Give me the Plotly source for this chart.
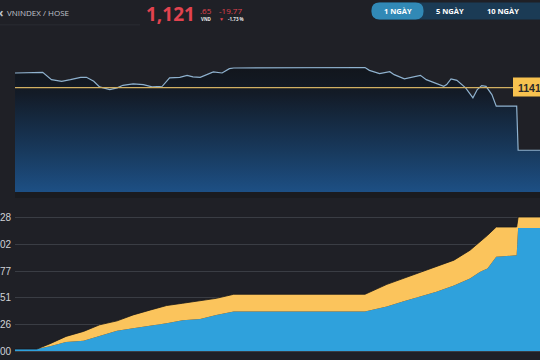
import plotly.graph_objects as go

DAY = "2024-01-02 "

# ---- intraday index line (top panel) ----
line_times = ["09:00", "09:17", "09:19", "09:25", "09:32", "09:38", "09:45", "09:49",
              "09:54", "09:58", "10:05", "10:10", "10:14", "10:21", "10:28", "10:34",
              "10:41", "10:46", "10:53", "10:58", "11:02", "11:07", "11:16", "11:22",
              "11:27", "11:30", "13:00", "13:03", "13:10", "13:17", "13:20", "13:27",
              "13:33", "13:38", "13:42", "13:48", "13:54", "13:56", "13:59", "14:03",
              "14:09", "14:14", "14:17", "14:20", "14:23", "14:27", "14:30", "14:44",
              "14:45", "15:00"]
line_values = [1146.03, 1146.03, 1146.22, 1143.93, 1143.40, 1143.93, 1144.65, 1144.65,
               1143.40, 1141.64, 1140.79, 1141.33, 1142.14, 1142.58, 1142.36, 1141.64,
               1141.83, 1144.46, 1144.65, 1145.28, 1144.78, 1144.65, 1146.35, 1146.03,
               1147.38, 1147.60, 1147.75, 1146.85, 1145.81, 1146.44, 1145.50, 1144.15,
               1144.78, 1145.28, 1143.93, 1142.89, 1141.83, 1142.36, 1144.15, 1143.71,
               1141.33, 1138.19, 1140.79, 1142.05, 1141.83, 1139.22, 1135.55, 1135.55,
               1121.65, 1121.65]
ref_value = 1141.42
ref_label = "1141.42"

# ---- cumulative volume (bottom panel) ----
vol_times = ["09:00", "09:15", "09:24", "09:35", "09:47", "09:58", "10:10", "10:21",
             "10:33", "10:44", "10:55", "11:07", "11:18", "11:30", "13:00", "13:15",
             "13:26", "13:38", "13:49", "14:01", "14:12", "14:19", "14:24", "14:30",
             "14:44", "14:45", "15:00"]
vol_blue = [1.9, 1.9, 4.5, 8.6, 9.8, 14.3, 19.4, 21.9, 24.1, 26.7, 29.6, 30.8, 34.6,
            37.9, 37.9, 42.6, 47.4, 52.2, 56.9, 62.7, 69.6, 76.0, 79.2, 90.3, 91.8,
            118.0, 118.0]
vol_yellow = [0.0, 0.0, 2.5, 5.4, 9.0, 10.8, 9.5, 12.7, 15.3, 16.9, 16.2, 17.2, 15.9,
              16.5, 16.5, 21.3, 22.2, 23.1, 23.9, 24.4, 27.0, 28.6, 31.7, 28.6, 27.1,
              10.5, 10.5]
vol_tickvals = [0, 25.6, 51.1, 76.7, 102.2, 127.8]
vol_ticktext = ["00", "26", "51", "77", "02", "28"]

# ---- header texts ----
title_text = "VNINDEX / HOSE"
price_main = "1,121"
price_dec = ".65"
price_unit = "VND"
change_abs = "-19.77"
change_pct = "-1.73 %"
buttons = ["1 NGÀY", "5 NGÀY", "10 NGÀY"]

W, H = 540, 360
BG = "#1f2026"


def px(x):
    return x / W


def py(y):
    return 1 - y / H


lx = [DAY + t for t in line_times]
vx = [DAY + t for t in vol_times]
vol_total = [b + y for b, y in zip(vol_blue, vol_yellow)]

fig = go.Figure()

fig.add_trace(go.Scatter(
    x=lx, y=line_values, mode="lines",
    line=dict(color="#8fb2cf", width=1.2),
    fill="tozeroy",
    fillgradient=dict(type="vertical", start=1108.5, stop=1149.6,
                      colorscale=[[0, "#1d4f84"], [0.3, "#183a5e"], [0.55, "#152940"],
                                  [0.75, "#131b27"], [1, "#111419"]]),
    hoverinfo="skip", xaxis="x", yaxis="y", showlegend=False))

fig.add_trace(go.Scatter(
    x=vx, y=vol_blue, mode="lines", line=dict(width=0, color="#2fa1dc"),
    fill="tozeroy", fillcolor="#2fa1dc",
    xaxis="x2", yaxis="y2", showlegend=False, hoverinfo="skip"))
fig.add_trace(go.Scatter(
    x=vx, y=vol_total, mode="lines", line=dict(width=0.8, color="#15161a"),
    fill="tonexty", fillcolor="#fbc45c",
    xaxis="x2", yaxis="y2", showlegend=False, hoverinfo="skip"))

xr = [DAY + "09:00", DAY + "15:00"]
fig.update_layout(
    width=W, height=H,
    margin=dict(l=0, r=0, t=0, b=0),
    paper_bgcolor=BG, plot_bgcolor=BG,
    font=dict(family="Open Sans", color="#c9ccd2"),
    hovermode=False,
    xaxis=dict(domain=[px(15), 1], range=xr, type="date", visible=False),
    yaxis=dict(domain=[py(193), py(62)], range=[1108.5, 1149.6], visible=False),
    xaxis2=dict(domain=[px(15), 1], range=xr, type="date", visible=False,
                anchor="y2"),
    yaxis2=dict(domain=[py(356), py(205)], range=[-2.9, 141.1], anchor="x2",
                tickvals=vol_tickvals, ticktext=vol_ticktext, ticks="",
                ticklabelstandoff=3,
                showgrid=True, gridcolor="#3a3d44", gridwidth=1, zeroline=False,
                showline=False, tickfont=dict(size=10, color="#d0d2d6",
                                              family="Arial")),
)

shapes = []
# divider under header
shapes.append(dict(type="line", xref="paper", yref="paper",
                   x0=0, x1=px(140), y0=py(25), y1=py(25),
                   line=dict(color="#2a2c32", width=1)))
# reference line
shapes.append(dict(type="line", xref="paper", yref="y",
                   x0=px(15), x1=px(513), y0=ref_value, y1=ref_value,
                   line=dict(color="#d2b062", width=1.4), layer="above"))
# reference label box
shapes.append(dict(type="rect", xref="paper", yref="paper",
                   x0=px(513), x1=px(548), y0=py(97), y1=py(78),
                   fillcolor="#f7c24f", line=dict(width=0), layer="above"))
# strip under top chart
shapes.append(dict(type="rect", xref="paper", yref="paper",
                   x0=px(15), x1=1, y0=py(199), y1=py(193),
                   fillcolor="#1a1b1f", line=dict(width=0)))


def rounded(x0, y0, x1, y1, r):
    pts = (f"M {px(x0 + r)},{py(y0)} L {px(x1 - r)},{py(y0)} "
           f"Q {px(x1)},{py(y0)} {px(x1)},{py(y0 + r)} "
           f"L {px(x1)},{py(y1 - r)} Q {px(x1)},{py(y1)} {px(x1 - r)},{py(y1)} "
           f"L {px(x0 + r)},{py(y1)} Q {px(x0)},{py(y1)} {px(x0)},{py(y1 - r)} "
           f"L {px(x0)},{py(y0 + r)} Q {px(x0)},{py(y0)} {px(x0 + r)},{py(y0)} Z")
    return pts


shapes.append(dict(type="path", xref="paper", yref="paper",
                   path=rounded(371.5, 2.5, 560, 19.5, 8),
                   fillcolor="#1b3b55", line=dict(width=0)))
shapes.append(dict(type="path", xref="paper", yref="paper",
                   path=rounded(371.5, 2.5, 423.5, 19.5, 8),
                   fillcolor="#3189b6", line=dict(width=0)))
fig.update_layout(shapes=shapes)

ann = []


def text(x, y, s, size, color, anchor="left", bold=False, family="Open Sans"):
    ann.append(dict(xref="paper", yref="paper", x=px(x), y=py(y), text=(f"<b>{s}</b>" if bold else s),
                    showarrow=False, xanchor=anchor, yanchor="middle",
                    font=dict(size=size, color=color, family=family)))


text(-3, 13, "‹", 12, "#c0c4cc", bold=True)
text(5, 13, title_text, 8, "#c0c4cc")
text(144, 14, price_main, 19, "#e2434f", bold=True)
text(198, 11, price_dec, 8, "#e2434f")
text(199, 19, price_unit, 4.5, "#e8e8e8", bold=True)
text(217, 11, change_abs, 8, "#e2434f")
text(217, 19.5, "▼", 5, "#e2434f")
text(226, 19, change_pct, 4.5, "#e8e8e8", bold=True)
for s, cx in zip(buttons, [397.5, 450, 503]):
    text(cx, 11, s, 7.5, "#ffffff", anchor="center", bold=True)
ann.append(dict(xref="paper", yref="y", x=px(516), y=ref_value, text=f"<b>{ref_label}</b>",
                showarrow=False, xanchor="left", yanchor="middle",
                font=dict(size=10.5, color="#2a2a2a", family="Arial")))
fig.update_layout(annotations=ann)

fig.write_html("out.html", config={"displayModeBar": False, "staticPlot": True},
               post_script="document.body.style.margin='0';")
